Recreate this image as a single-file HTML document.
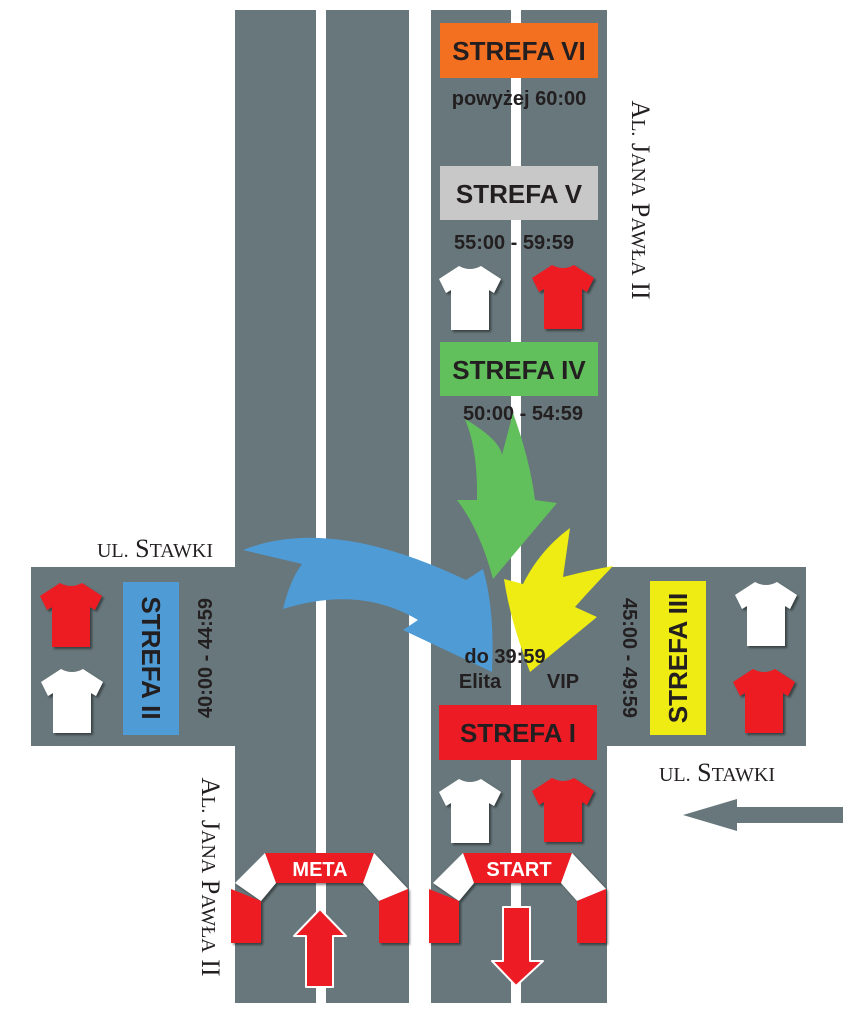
<!DOCTYPE html>
<html><head><meta charset="utf-8"><style>
html,body{margin:0;padding:0;background:#fff}
svg{display:block}
.b{font-family:"Liberation Sans",sans-serif;font-weight:bold;fill:#231f20}
.s{font-family:"Liberation Serif",serif;fill:#231f20}
</style></head><body>
<svg width="852" height="1017" viewBox="0 0 852 1017" xmlns="http://www.w3.org/2000/svg">
<defs>
<path id="shirt" d="M20,0 Q31,6 42,0 L62,13 L55,27 L50,24 L50,64 L12,64 L12,24 L7,27 L0,13 Z"/>
<filter id="sh" x="-20%" y="-20%" width="140%" height="140%"><feDropShadow dx="2" dy="2" stdDeviation="1" flood-color="#000" flood-opacity="0.45"/></filter>
</defs>
<!-- roads -->
<rect x="31" y="567" width="775" height="179" fill="#67777b"/>
<rect x="235" y="10" width="174" height="993" fill="#67777b"/>
<rect x="431" y="10" width="176" height="993" fill="#67777b"/>
<rect x="409" y="10" width="22" height="993" fill="#fff"/>
<rect x="316" y="10" width="10" height="993" fill="#fff"/>
<rect x="511" y="10" width="10" height="993" fill="#fff"/>

<!-- zone boxes -->
<rect x="440" y="23" width="158" height="55" fill="#f37021"/>
<text class="b" x="519" y="60" font-size="26" text-anchor="middle">STREFA VI</text>
<text class="b" x="519" y="105" font-size="20" text-anchor="middle">powyżej 60:00</text>
<rect x="440" y="166" width="158" height="54" fill="#c8c8c8"/>
<text class="b" x="519" y="203" font-size="26" text-anchor="middle">STREFA V</text>
<text class="b" x="514" y="249" font-size="20" text-anchor="middle">55:00 - 59:59</text>
<rect x="440" y="342" width="158" height="54" fill="#62c05c"/>
<text class="b" x="519" y="379" font-size="26" text-anchor="middle">STREFA IV</text>
<text class="b" x="523" y="420" font-size="20" text-anchor="middle">50:00 - 54:59</text>
<rect x="439" y="705" width="158" height="55" fill="#ed1c24"/>
<text class="b" x="518" y="742" font-size="26" text-anchor="middle">STREFA I</text>

<rect x="123" y="582" width="56" height="153" fill="#4f9bd6"/>
<text class="b" font-size="26" text-anchor="middle" transform="translate(142,658) rotate(90)">STREFA II</text>
<text class="b" font-size="20" text-anchor="middle" transform="translate(212,658) rotate(-90)">40:00 - 44:59</text>
<rect x="650" y="581" width="56" height="154" fill="#eeec12"/>
<text class="b" font-size="26" text-anchor="middle" transform="translate(687,658) rotate(-90)">STREFA III</text>
<text class="b" font-size="20" text-anchor="middle" transform="translate(623,658) rotate(90)">45:00 - 49:59</text>

<!-- street names -->
<text class="s" font-size="26" text-anchor="middle" transform="translate(632,200) rotate(90)">A<tspan font-size="20">L.</tspan> J<tspan font-size="20">ANA</tspan> P<tspan font-size="20">AWŁA</tspan> II</text>
<text class="s" font-size="26" text-anchor="middle" transform="translate(202,877) rotate(90)">A<tspan font-size="20">L.</tspan> J<tspan font-size="20">ANA</tspan> P<tspan font-size="20">AWŁA</tspan> II</text>
<text class="s" x="155" y="557" font-size="26" text-anchor="middle"><tspan font-size="20">UL.</tspan> S<tspan font-size="20">TAWKI</tspan></text>
<text class="s" x="717" y="781" font-size="26" text-anchor="middle"><tspan font-size="20">UL.</tspan> S<tspan font-size="20">TAWKI</tspan></text>

<!-- shirts -->
<g filter="url(#sh)">
<use href="#shirt" x="439" y="266" fill="#fff"/>
<use href="#shirt" x="532" y="265" fill="#ed1c24"/>
<use href="#shirt" x="439" y="779" fill="#fff"/>
<use href="#shirt" x="532" y="778" fill="#ed1c24"/>
<use href="#shirt" x="40" y="583" fill="#ed1c24"/>
<use href="#shirt" x="41" y="669" fill="#fff"/>
<use href="#shirt" x="735" y="582" fill="#fff"/>
<use href="#shirt" x="733" y="669" fill="#ed1c24"/>
</g>

<!-- curved arrows -->
<path d="M243,550 Q330,515 466,580 L483,569 Q495,610 492,672 L403,630 L418,620 Q360,585 283,609 Q290,580 302,564 Z" fill="#4f9bd6"/>
<path d="M465,419 Q500,440 502,455 L513,413 Q530,460 535,500 L557,503 L493,579 Q480,530 457,500 L477,500 Q478,450 465,419 Z" fill="#62c05c"/>
<path d="M530,672 Q510,620 504,579 L523,584 Q540,550 570,528 L563,577 Q590,570 613,566 Q590,590 575,607 L597,617 Z" fill="#eeec12"/>

<text class="b" x="505" y="663" font-size="20" text-anchor="middle">do 39:59</text>
<text class="b" x="480" y="688" font-size="20" text-anchor="middle">Elita</text>
<text class="b" x="563" y="688" font-size="20" text-anchor="middle">VIP</text>

<!-- grey arrow -->
<path d="M683,815 L737,799 L737,807 L843,807 L843,823 L737,823 L737,831 Z" fill="#67777b"/>

<!-- arches -->
<g id="arch" filter="url(#sh)">
<polygon points="265,853 374,853 363,883 276,883" fill="#ed1c24"/>
<polygon points="235,883 265,853 276,883 261,901" fill="#fff"/>
<polygon points="231,889 261,901 261,943 231,943" fill="#ed1c24"/>
<polygon points="374,853 408,889 379,901 363,883" fill="#fff"/>
<polygon points="379,901 408,889 408,943 379,943" fill="#ed1c24"/>
</g>
<use href="#arch" x="198" y="0"/>
<text x="320" y="876" font-family="Liberation Sans,sans-serif" font-weight="bold" font-size="20" fill="#fff" text-anchor="middle">META</text>
<text x="519" y="876" font-family="Liberation Sans,sans-serif" font-weight="bold" font-size="20" fill="#fff" text-anchor="middle">START</text>

<path d="M320,909 L346,936 L333,936 L333,987 L306,987 L306,936 L294,936 Z" fill="#ed1c24" stroke="#fff" stroke-width="2" stroke-linejoin="round"/>
<path d="M503,907 L530,907 L530,961 L543,961 L516,986 L492,961 L503,961 Z" fill="#ed1c24" stroke="#fff" stroke-width="2" stroke-linejoin="round"/>
</svg>
</body></html>
